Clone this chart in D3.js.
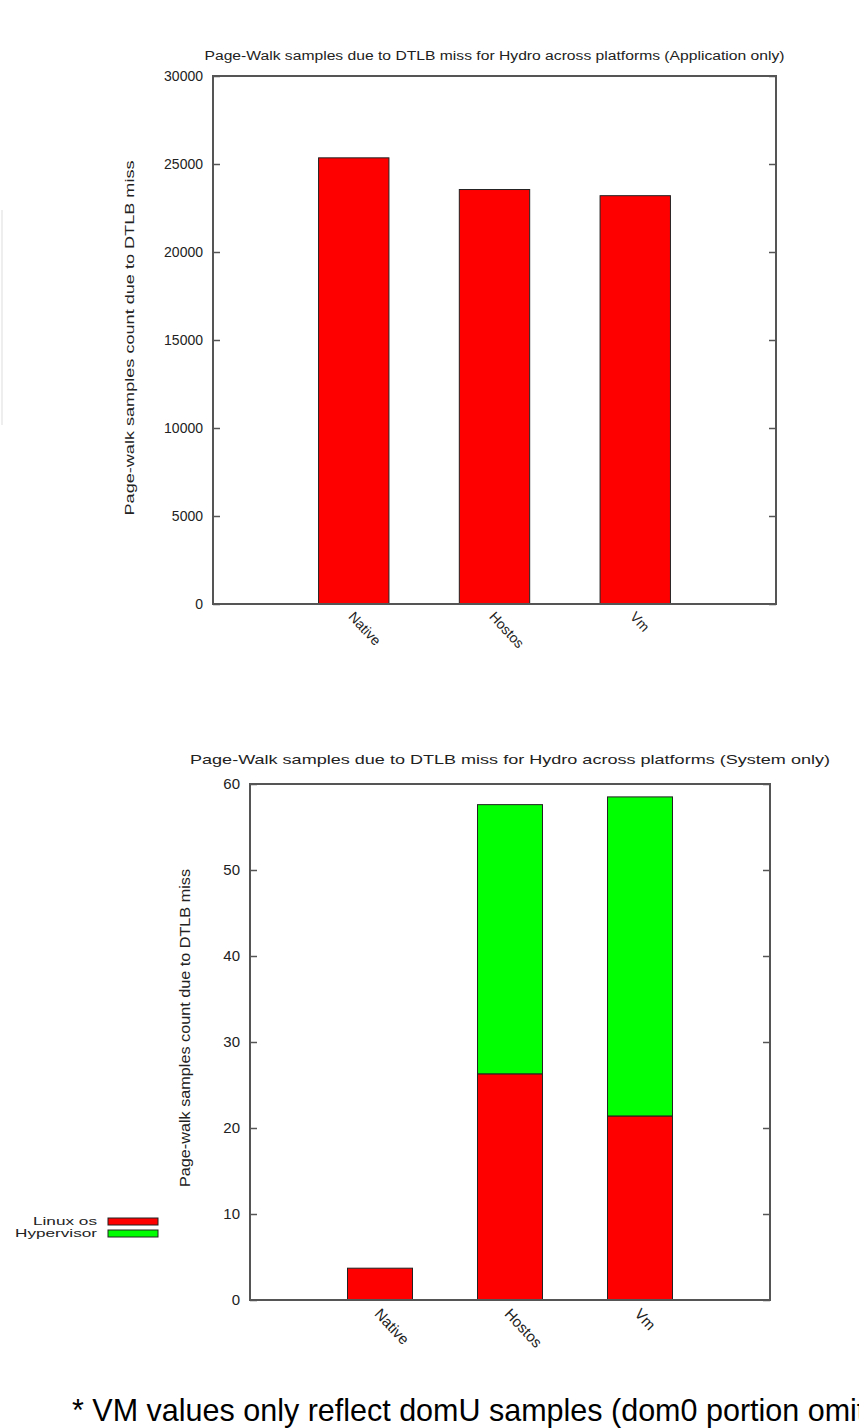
<!DOCTYPE html>
<html>
<head>
<meta charset="utf-8">
<script src="https://cdn.jsdelivr.net/npm/d3@7"></script>
<style>
    body { margin: 0; background: #fff; }
    text { font-family: "Liberation Sans", Arial, sans-serif; fill: #222; }
</style>
</head>
<body>
<div class="chart__container"></div>
<script>
/*---------------------------Init---------------------------*/

const PAGE__WIDTH = 859;
const PAGE__HEIGHT = 1428;

// categories and values
const CATEGORIES = ["Native", "Hostos", "Vm"];
const APP_SAMPLES = [25350, 23550, 23200];
const APP_TICKS = [0, 5000, 10000, 15000, 20000, 25000, 30000];

const SERIES = ["Linux os", "Hypervisor"];
const SYS_LINUX = [3.7, 26.3, 21.4];
const SYS_HYPERVISOR = [0, 31.3, 37.1];
const SYS_TICKS = [0, 10, 20, 30, 40, 50, 60];

const TITLE_APP = "Page-Walk samples due to DTLB miss for Hydro across platforms (Application only)";
const TITLE_SYS = "Page-Walk samples due to DTLB miss for Hydro across platforms (System only)";
const Y_LABEL = "Page-walk samples count due to DTLB miss";
const FOOTNOTE = "* VM values only reflect domU samples (dom0 portion omitted)";

const COLOR = {
    linux: "#ff0000",
    hypervisor: "#00ff00",
    frame: "#555",
    barStroke: "#222"
}

/*---------------------------Draw---------------------------*/

const svg = d3.select(".chart__container").append("svg")
    .attr("width", PAGE__WIDTH)
    .attr("height", PAGE__HEIGHT)
    .style("background-color", "#fff");

const drawPanel = (opt) => {
    const g = svg.append("g");
    const f = opt.frame;

    const xScale = d3.scaleLinear().domain([-1, 3]).range([f.left, f.right]);
    const yScale = d3.scaleLinear().domain([0, d3.max(opt.ticks)]).range([f.bottom, f.top]);

    //title
    g.append("text")
        .attr("x", (f.left + f.right) / 2)
        .attr("y", opt.titleY)
        .attr("text-anchor", "middle")
        .attr("font-size", opt.fontSize)
        .attr("textLength", opt.titleLength)
        .attr("lengthAdjust", "spacingAndGlyphs")
        .text(opt.title);

    //y label
    g.append("text")
        .attr("transform", `translate(${opt.yLabelX},${opt.yLabelY}) rotate(-90)`)
        .attr("text-anchor", "middle")
        .attr("font-size", opt.fontSize + 1)
        .attr("textLength", opt.yLabelLength)
        .attr("lengthAdjust", "spacingAndGlyphs")
        .text(Y_LABEL);

    //bars
    const stacked = d3.stack().keys(opt.keys)(opt.rows);
    const half = (xScale(0.25) - xScale(-0.25)) / 2;

    g.selectAll(".layer")
        .data(stacked)
        .enter()
        .append("g")
        .attr("fill", (d, i) => opt.colors[i])
        .selectAll("rect")
        .data(d => d.filter(s => s[1] - s[0] > 0))
        .enter()
        .append("rect")
        .attr("x", d => xScale(d.data.index) - half)
        .attr("y", d => yScale(d[1]))
        .attr("width", half * 2)
        .attr("height", d => yScale(d[0]) - yScale(d[1]))
        .attr("stroke", COLOR.barStroke)
        .attr("stroke-width", 1);

    //y axis (inward ticks, mirrored on the right)
    const left = g.append("g")
        .attr("transform", `translate(${f.left},0)`)
        .call(d3.axisLeft(yScale).tickValues(opt.ticks).tickSize(-7).tickPadding(10).tickFormat(d3.format("d")));
    left.select(".domain").remove();
    left.selectAll("line").attr("stroke", COLOR.frame).attr("stroke-width", 1.5);
    left.selectAll("text").attr("font-size", opt.tickFont).attr("font-family", null);

    const right = g.append("g")
        .attr("transform", `translate(${f.right},0)`)
        .call(d3.axisRight(yScale).tickValues(opt.ticks).tickSize(-7).tickFormat(""));
    right.select(".domain").remove();
    right.selectAll("line").attr("stroke", COLOR.frame).attr("stroke-width", 1.5);

    //x axis labels, rotated
    const bottom = g.append("g")
        .attr("transform", `translate(0,${f.bottom})`)
        .call(d3.axisBottom(xScale).tickValues([0, 1, 2]).tickSize(0).tickFormat(i => CATEGORIES[i]));
    bottom.select(".domain").remove();
    bottom.selectAll("text")
        .attr("font-size", opt.tickFont)
        .attr("font-family", null)
        .attr("text-anchor", "start")
        .attr("x", 0)
        .attr("y", 0)
        .attr("dy", "0.35em")
        .attr("transform", `translate(-3,${opt.xLabelOffset}) rotate(47)`);

    //frame
    g.append("rect")
        .attr("x", f.left)
        .attr("y", f.top)
        .attr("width", f.right - f.left)
        .attr("height", f.bottom - f.top)
        .attr("fill", "none")
        .attr("stroke", COLOR.frame)
        .attr("stroke-width", 2);
}

//top chart
drawPanel({
    frame: { left: 213, right: 776, top: 76, bottom: 604 },
    ticks: APP_TICKS,
    keys: ["app"],
    rows: CATEGORIES.map((c, i) => ({ index: i, category: c, app: APP_SAMPLES[i] })),
    colors: [COLOR.linux],
    title: TITLE_APP,
    titleY: 60,
    titleLength: 580,
    yLabelX: 134,
    yLabelY: 338,
    yLabelLength: 355,
    fontSize: 12,
    tickFont: 14,
    xLabelOffset: 10
});

//bottom chart
drawPanel({
    frame: { left: 250, right: 770, top: 784, bottom: 1300 },
    ticks: SYS_TICKS,
    keys: ["linux", "hypervisor"],
    rows: CATEGORIES.map((c, i) => ({ index: i, category: c, linux: SYS_LINUX[i], hypervisor: SYS_HYPERVISOR[i] })),
    colors: [COLOR.linux, COLOR.hypervisor],
    title: TITLE_SYS,
    titleY: 764,
    titleLength: 640,
    yLabelX: 190,
    yLabelY: 1028,
    yLabelLength: 318,
    fontSize: 13,
    tickFont: 15,
    xLabelOffset: 11
});

//legend
const legend = svg.append("g");
const legendColors = [COLOR.linux, COLOR.hypervisor];
legend.selectAll("text")
    .data(SERIES)
    .enter()
    .append("text")
    .attr("x", 97)
    .attr("y", (d, i) => 1225 + i * 12)
    .attr("text-anchor", "end")
    .attr("font-size", 11.5)
    .attr("textLength", (d, i) => [64, 82][i])
    .attr("lengthAdjust", "spacingAndGlyphs")
    .text(d => d);
legend.selectAll("rect")
    .data(SERIES)
    .enter()
    .append("rect")
    .attr("x", 108)
    .attr("y", (d, i) => 1218 + i * 12)
    .attr("width", 50)
    .attr("height", 7)
    .attr("fill", (d, i) => legendColors[i])
    .attr("stroke", COLOR.barStroke)
    .attr("stroke-width", 1);

//faint edge line at left
svg.append("line")
    .attr("x1", 2).attr("x2", 2)
    .attr("y1", 210).attr("y2", 425)
    .attr("stroke", "#eee")
    .attr("stroke-width", 2);

//footnote (runs past the right edge, as in the source)
svg.append("text")
    .attr("x", 72)
    .attr("y", 1421)
    .attr("font-size", 30.5)
    .style("fill", "#000")
    .text(FOOTNOTE);
</script>
</body>
</html>
